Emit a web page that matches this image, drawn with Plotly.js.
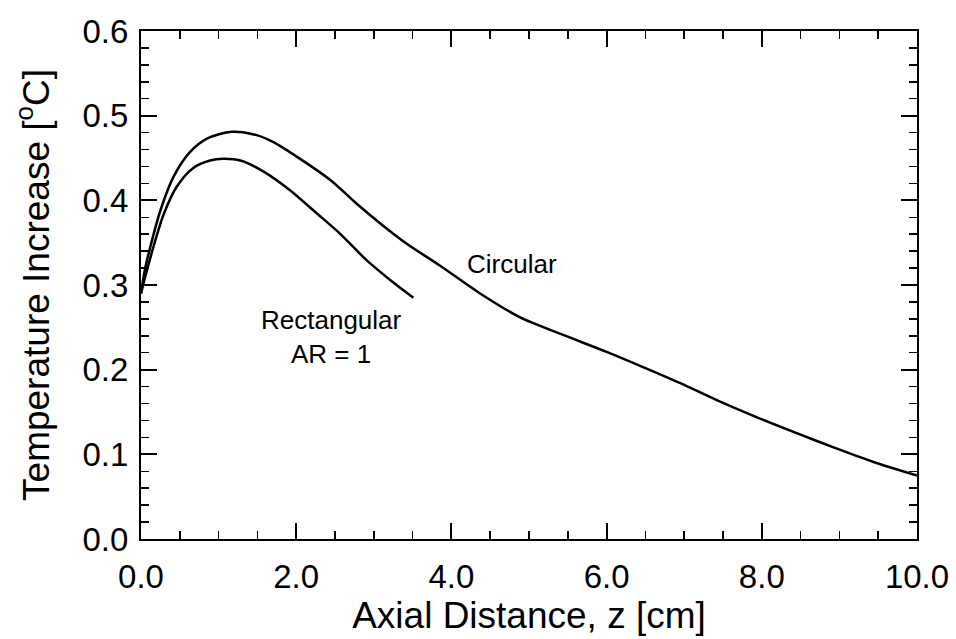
<!DOCTYPE html>
<html>
<head>
<meta charset="utf-8">
<script src="https://cdn.plot.ly/plotly-3.0.1.min.js"></script>
<style>html,body{margin:0;padding:0;background:#fff;}#chart{width:956px;height:639px;}</style>
</head>
<body>
<div id="chart"></div>
<script>
// Circular channel
const circX = [0.0, 0.05, 0.12, 0.25, 0.42, 0.63, 0.85, 1.17, 1.49, 1.70, 2.05, 2.44, 2.78, 3.08, 3.42, 3.85, 4.37, 4.88, 5.44, 6.0, 6.47, 6.95, 7.42, 7.93, 8.45, 8.96, 9.44, 10.0];
const circY = [0.290, 0.318, 0.345, 0.388, 0.428, 0.457, 0.473, 0.481, 0.477, 0.469, 0.449, 0.424, 0.396, 0.373, 0.349, 0.323, 0.290, 0.262, 0.241, 0.221, 0.203, 0.184, 0.164, 0.144, 0.125, 0.107, 0.091, 0.075];
// Rectangular channel, AR = 1
const rectX = [0.0, 0.07, 0.16, 0.29, 0.46, 0.67, 0.89, 1.06, 1.28, 1.58, 1.92, 2.26, 2.56, 2.91, 3.21, 3.51];
const rectY = [0.290, 0.315, 0.345, 0.383, 0.416, 0.438, 0.447, 0.449, 0.447, 0.434, 0.412, 0.385, 0.361, 0.329, 0.306, 0.285];

const labels = [
  {text: 'Circular', x: 4.78, y: 0.325},
  {text: 'Rectangular<br>AR = 1', x: 2.45, y: 0.238}
];

const font = 'Liberation Sans, Arial, Helvetica, sans-serif';
const lineStyle = {color: '#000', width: 2.5, shape: 'spline', smoothing: 0.8};

const traces = [
  {x: circX, y: circY, mode: 'lines', line: lineStyle, name: 'Circular', hoverinfo: 'skip'},
  {x: rectX, y: rectY, mode: 'lines', line: lineStyle, name: 'Rectangular AR = 1', hoverinfo: 'skip'}
];

const axisCommon = {
  showgrid: false, zeroline: false, showline: true, linecolor: '#000', linewidth: 2,
  mirror: 'allticks', ticks: 'inside', tickcolor: '#000', tickwidth: 2, ticklen: 16,
  tickfont: {family: font, size: 33, color: '#000'}
};

const layout = {
  width: 956, height: 639,
  margin: {l: 141, r: 39, t: 31, b: 100},
  paper_bgcolor: '#fff', plot_bgcolor: '#fff',
  showlegend: false,
  font: {family: font, color: '#000'},
  xaxis: Object.assign({}, axisCommon, {
    range: [0, 10], tick0: 0, dtick: 2, tickformat: '.1f', ticklabelstandoff: 7,
    minor: {dtick: 0.5, ticks: 'inside', ticklen: 8, tickwidth: 1.5, tickcolor: '#000'},
    title: {text: 'Axial Distance, z [cm]', font: {family: font, size: 37, color: '#000'}, standoff: 6}
  }),
  yaxis: Object.assign({}, axisCommon, {
    range: [0, 0.6], tick0: 0, dtick: 0.1, tickformat: '.1f', ticklabelstandoff: 4,
    minor: {dtick: 0.02, ticks: 'inside', ticklen: 8, tickwidth: 1.5, tickcolor: '#000'},
    title: {text: 'Temperature Increase [<sup>o</sup>C]', font: {family: font, size: 37, color: '#000'}, standoff: 22}
  }),
  annotations: labels.map(a => ({
    x: a.x, y: a.y, xref: 'x', yref: 'y', text: a.text, showarrow: false,
    font: {family: font, size: 26, color: '#000'}, align: 'center'
  }))
};

Plotly.newPlot('chart', traces, layout, {staticPlot: true, displayModeBar: false});
</script>
</body>
</html>
